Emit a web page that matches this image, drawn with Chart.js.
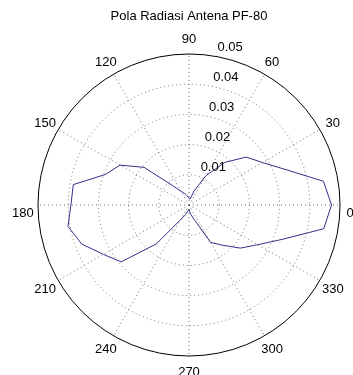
<!DOCTYPE html>
<html>
<head>
<meta charset="utf-8">
<script src="https://cdn.jsdelivr.net/npm/chart.js@4.4.1/dist/chart.umd.min.js"></script>
<style>
  body { margin: 0; background: #fff; }
</style>
</head>
<body>
<canvas id="polarChart" width="353" height="375"></canvas>
<script>
const judul = 'Pola Radiasi Antena PF-80';

// sudut (derajat) dan nilai pola radiasi
const sudut = [0, 10, 20, 30, 40, 50, 60, 70, 80, 90, 100, 110,
               120, 130, 140, 150, 160, 170, 180, 190, 200, 210, 220, 230,
               240, 250, 260, 270, 280, 290, 300, 310, 320, 330, 340, 350];
const nilai = [0.0472, 0.0452, 0.0342, 0.0281, 0.0247, 0.0184, 0.0112, 0.0050, 0.0020, 0.0022, 0.0030, 0.0040,
               0.0052, 0.0083, 0.0194, 0.0264, 0.0295, 0.0389, 0.0391, 0.0407, 0.0378, 0.0327, 0.0293, 0.0168,
               0.0057, 0.0034, 0.0020, 0.0015, 0.0031, 0.0052, 0.0143, 0.0174, 0.0222, 0.0263, 0.0331, 0.0453];

const labelSudut = [0, 30, 60, 90, 120, 150, 180, 210, 240, 270, 300, 330];
const labelRadius = [0.01, 0.02, 0.03, 0.04, 0.05];

const fontLabel = '13px "Liberation Sans", Arial, sans-serif';
const warnaGrid = '#6e6e6e';

// radar chart jalan searah jarum jam, polar matlab berlawanan -> dibalik
const n = sudut.length;
const urutan = sudut.map((s, i) => (n - i) % n);
const labels = urutan.map(k => sudut[k]);
const data = urutan.map(k => nilai[k]);

function indexSudut(a) {
    return ((360 - a) % 360) / (360 / n);
}

const teksPolar = {
    id: 'teksPolar',
    afterDraw(chart) {
        const r = chart.scales.r;
        const ctx = chart.ctx;
        ctx.save();
        ctx.font = fontLabel;
        ctx.fillStyle = '#000';

        // label sudut di 1.1 R
        ctx.textAlign = 'center';
        ctx.textBaseline = 'middle';
        labelSudut.forEach(a => {
            const p = r.getPointPosition(indexSudut(a), r.drawingArea * 1.1);
            let x = p.x;
            let y = p.y + 1;
            if (a === 0) { x = Math.min(x, 350); y += 7; }
            if (a === 180) { y += 7; }
            ctx.fillText(String(a), x, y);
        });

        // label radius di 82 derajat
        const c82 = Math.cos(82 * Math.PI / 180);
        const s82 = Math.sin(82 * Math.PI / 180);
        const rinc = labelRadius[1] - labelRadius[0];
        ctx.textAlign = 'left';
        ctx.textBaseline = 'bottom';
        labelRadius.forEach(v => {
            const d = r.getDistanceFromCenterForValue(v + rinc / 20);
            ctx.fillText('  ' + v.toFixed(2), r.xCenter + d * c82, r.yCenter - d * s82);
        });
        ctx.restore();
    }
};

const ctx = document.getElementById('polarChart');

new Chart(ctx, {
    type: 'radar',
    data: {
        labels: labels,
        datasets: [{
            data: data,
            borderColor: '#30308a',
            borderWidth: 1,
            pointRadius: 0,
            pointHoverRadius: 0,
            fill: false,
            tension: 0
        }]
    },
    options: {
        responsive: false,
        animation: false,
        layout: {
            padding: { left: 38, right: 13, top: 0, bottom: 18.5 }
        },
        plugins: {
            legend: { display: false },
            tooltip: { enabled: false },
            title: {
                display: true,
                text: judul,
                color: '#000',
                font: { family: '"Liberation Sans", Arial, sans-serif', size: 13, weight: 'normal' },
                padding: { top: 9, bottom: 29.4 }
            }
        },
        scales: {
            r: {
                min: 0,
                max: 0.05,
                startAngle: 90,
                ticks: { display: false, stepSize: 0.01 },
                pointLabels: { display: false },
                grid: {
                    circular: true,
                    color: c => (c.tick && c.tick.value > 0.0499) ? '#000' : warnaGrid,
                    lineWidth: 1
                },
                border: {
                    dash: c => (c.tick && c.tick.value > 0.0499) ? [] : [1, 3]
                },
                angleLines: {
                    display: true,
                    color: warnaGrid,
                    lineWidth: c => (c.index % 3 === 0) ? 1 : 0,
                    borderDash: [1, 3]
                }
            }
        }
    },
    plugins: [teksPolar]
});
</script>
</body>
</html>
